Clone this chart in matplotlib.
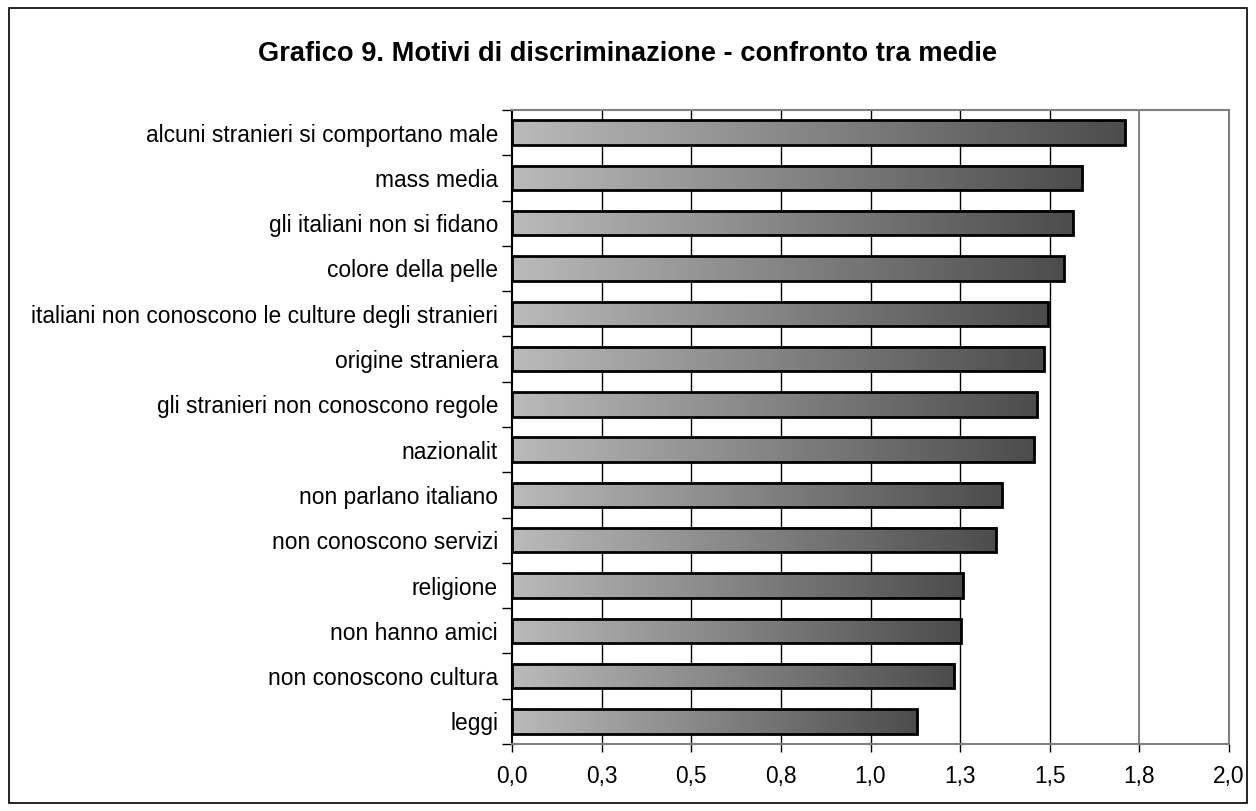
import numpy as np
import matplotlib
matplotlib.use("Agg")
import matplotlib.pyplot as plt
from matplotlib.patches import Rectangle
from matplotlib.colors import LinearSegmentedColormap

plt.rcParams['font.family'] = ['Liberation Sans', 'DejaVu Sans']

# dati (dall'alto verso il basso)
categorie = ["alcuni stranieri si comportano male", "mass media",
             "gli italiani non si fidano", "colore della pelle",
             "italiani non conoscono le culture degli stranieri",
             "origine straniera", "gli stranieri non conoscono regole",
             "nazionalit", "non parlano italiano", "non conoscono servizi",
             "religione", "non hanno amici", "non conoscono cultura", "leggi"]
medie = [1.71, 1.59, 1.565, 1.54, 1.495, 1.485, 1.465, 1.457,
         1.366, 1.351, 1.259, 1.252, 1.234, 1.131]
xticks = [0, 0.25, 0.5, 0.75, 1.0, 1.25, 1.5, 1.75, 2.0]
xlabels = ["0,0", "0,3", "0,5", "0,8", "1,0", "1,3", "1,5", "1,8", "2,0"]

fig = plt.figure(figsize=(12.56, 8.11), dpi=100)
# cornice esterna
fig.patches.append(Rectangle((9 / 1256, 8 / 811), 1238 / 1256, 795 / 811,
                             transform=fig.transFigure, fill=False,
                             edgecolor='black', linewidth=1.2))

ax = fig.add_axes([512 / 1256, 67 / 811, 717 / 1256, 634 / 811])
n = len(categorie)
ypos = np.arange(n)[::-1]
h = 0.54

cmap = LinearSegmentedColormap.from_list("g", ["#bababa", "#4c4c4c"])
grad = np.linspace(0, 1, 256).reshape(1, -1)

# griglia verticale
for t in xticks[1:-1]:
    col = '#808080' if t == 1.75 else 'black'
    lw = 1.4 if t == 1.75 else 1.0
    ax.axvline(t, color=col, linewidth=lw, zorder=0.5)

bars = ax.barh(ypos, medie, height=h, color='none', edgecolor='black',
               linewidth=2, zorder=3)
for b, v, y in zip(bars, medie, ypos):
    ax.imshow(grad, extent=(0, v, y - h / 2, y + h / 2), aspect='auto',
              cmap=cmap, zorder=2, interpolation='bilinear')

ax.set_xlim(0, 2.0)
ax.set_ylim(-0.5, n - 0.5)
ax.set_xticks(xticks)
ax.set_xticklabels(xlabels, fontsize=16.4)
ax.set_yticks(ypos)
ax.set_yticklabels(categorie, fontsize=16.4)
ax.set_yticks(np.arange(n + 1) - 0.5, minor=True)
ax.tick_params(axis='y', which='major', length=0, pad=10)
ax.tick_params(axis='y', which='minor', length=7, width=1, color='black')
ax.tick_params(axis='x', length=6, width=1, pad=9)

for s in ['top', 'right', 'bottom']:
    ax.spines[s].set_color('#808080')
    ax.spines[s].set_linewidth(1.5)
ax.spines['left'].set_color('black')
ax.spines['left'].set_linewidth(1.5)

fig.text(0.5, 757 / 811, "Grafico 9. Motivi di discriminazione - confronto tra medie",
         ha='center', va='center', fontsize=19.6, fontweight='bold')

fig.savefig("out.png", dpi=100)
